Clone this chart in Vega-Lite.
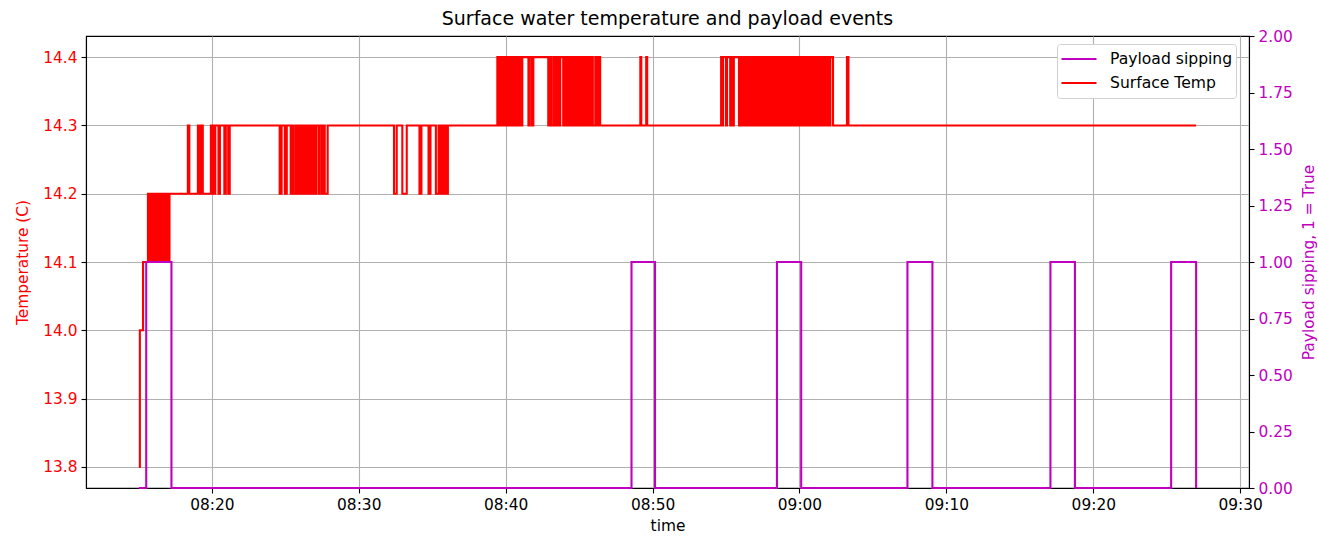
{
  "$schema": "https://vega.github.io/schema/vega-lite/v6.json",
  "width": 1163,
  "height": 452,
  "autosize": {"type": "none"},
  "padding": {"left": 86, "top": 36, "right": 69, "bottom": 48},
  "title": {"text": "Surface water temperature and payload events", "fontSize": 19, "fontWeight": "normal", "color": "#000000", "offset": 0, "font": "DejaVu Sans"},
  "config": {
    "font": "DejaVu Sans",
    "view": {"stroke": "#000000", "strokeWidth": 1.1},
    "axis": {"labelFontSize": 15.4, "titleFontSize": 15.4, "titleFontWeight": "normal", "labelColor": "#000000", "titleColor": "#000000", "tickColor": "#000000", "domainColor": "#000000", "domainWidth": 1.1, "tickWidth": 1.1, "tickSize": 5, "labelPadding": 4, "gridColor": "#b0b0b0", "gridWidth": 1.1, "gridOpacity": 1, "labelFont": "DejaVu Sans", "titleFont": "DejaVu Sans"}
  },
  "layer": [
    {
      "data": {
        "format": {"parse": {"t": "utc:'%H:%M:%S'"}},
        "values": [
          {"t":"08:15:02","v":13.8},{"t":"08:15:06","v":14.0},{"t":"08:15:19","v":14.1},
          {"t":"08:15:39","v":14.2},{"t":"08:15:44","v":14.1},{"t":"08:15:49","v":14.2},{"t":"08:15:54","v":14.1},{"t":"08:15:59","v":14.2},
          {"t":"08:16:04","v":14.1},{"t":"08:16:09","v":14.2},{"t":"08:16:14","v":14.1},{"t":"08:16:19","v":14.2},{"t":"08:16:24","v":14.1},
          {"t":"08:16:29","v":14.2},{"t":"08:16:34","v":14.1},{"t":"08:16:39","v":14.2},{"t":"08:16:44","v":14.1},{"t":"08:16:49","v":14.2},
          {"t":"08:16:54","v":14.1},{"t":"08:16:59","v":14.2},{"t":"08:17:04","v":14.1},{"t":"08:17:07","v":14.2},
          {"t":"08:18:22","v":14.3},{"t":"08:18:28","v":14.2},{"t":"08:19:03","v":14.3},{"t":"08:19:07","v":14.2},{"t":"08:19:15","v":14.3},{"t":"08:19:23","v":14.2},
          {"t":"08:19:56","v":14.3},{"t":"08:20:00","v":14.2},{"t":"08:20:06","v":14.3},{"t":"08:20:10","v":14.2},{"t":"08:20:14","v":14.3},
          {"t":"08:20:27","v":14.2},{"t":"08:20:33","v":14.3},{"t":"08:20:51","v":14.2},{"t":"08:20:57","v":14.3},{"t":"08:21:07","v":14.2},{"t":"08:21:13","v":14.3},
          {"t":"08:24:37","v":14.2},{"t":"08:24:45","v":14.3},{"t":"08:24:58","v":14.2},{"t":"08:25:06","v":14.3},{"t":"08:25:22","v":14.2},{"t":"08:25:26","v":14.3},
          {"t":"08:25:34","v":14.2},{"t":"08:25:43","v":14.3},{"t":"08:25:51","v":14.2},{"t":"08:25:56","v":14.3},{"t":"08:26:01","v":14.2},{"t":"08:26:06","v":14.3},
          {"t":"08:26:11","v":14.2},{"t":"08:26:16","v":14.3},{"t":"08:26:21","v":14.2},{"t":"08:26:26","v":14.3},{"t":"08:26:31","v":14.2},{"t":"08:26:36","v":14.3},
          {"t":"08:26:41","v":14.2},{"t":"08:26:46","v":14.3},{"t":"08:26:51","v":14.2},{"t":"08:26:56","v":14.3},{"t":"08:27:01","v":14.2},{"t":"08:27:06","v":14.3},
          {"t":"08:27:16","v":14.2},{"t":"08:27:20","v":14.3},{"t":"08:27:29","v":14.2},{"t":"08:27:33","v":14.3},{"t":"08:27:41","v":14.2},{"t":"08:27:53","v":14.3},
          {"t":"08:32:24","v":14.2},{"t":"08:32:35","v":14.3},{"t":"08:32:58","v":14.2},{"t":"08:33:16","v":14.3},
          {"t":"08:34:08","v":14.2},{"t":"08:34:16","v":14.3},{"t":"08:34:45","v":14.2},{"t":"08:34:53","v":14.3},
          {"t":"08:35:15","v":14.2},{"t":"08:35:26","v":14.3},{"t":"08:35:34","v":14.2},{"t":"08:35:42","v":14.3},{"t":"08:35:46","v":14.2},{"t":"08:35:54","v":14.3},
          {"t":"08:35:58","v":14.2},{"t":"08:36:04","v":14.3},
          {"t":"08:39:26","v":14.4},{"t":"08:39:30","v":14.3},{"t":"08:39:36","v":14.4},{"t":"08:39:40","v":14.3},{"t":"08:39:46","v":14.4},{"t":"08:39:51","v":14.3},
          {"t":"08:39:59","v":14.4},{"t":"08:40:07","v":14.3},{"t":"08:40:13","v":14.4},{"t":"08:40:19","v":14.3},{"t":"08:40:25","v":14.4},{"t":"08:40:31","v":14.3},
          {"t":"08:40:37","v":14.4},{"t":"08:40:43","v":14.3},{"t":"08:40:48","v":14.4},{"t":"08:40:56","v":14.3},{"t":"08:41:00","v":14.4},{"t":"08:41:04","v":14.3},
          {"t":"08:41:08","v":14.4},{"t":"08:41:33","v":14.3},{"t":"08:41:38","v":14.4},{"t":"08:41:47","v":14.3},{"t":"08:41:53","v":14.4},
          {"t":"08:42:54","v":14.3},{"t":"08:43:00","v":14.4},{"t":"08:43:06","v":14.3},{"t":"08:43:15","v":14.4},{"t":"08:43:23","v":14.3},{"t":"08:43:29","v":14.4},
          {"t":"08:43:35","v":14.3},{"t":"08:43:43","v":14.4},{"t":"08:43:55","v":14.3},{"t":"08:44:01","v":14.4},{"t":"08:44:06","v":14.3},{"t":"08:44:12","v":14.4},
          {"t":"08:44:16","v":14.3},{"t":"08:44:24","v":14.4},{"t":"08:44:32","v":14.3},{"t":"08:44:38","v":14.4},{"t":"08:44:44","v":14.3},{"t":"08:44:50","v":14.4},
          {"t":"08:44:56","v":14.3},{"t":"08:45:02","v":14.4},{"t":"08:45:08","v":14.3},{"t":"08:45:14","v":14.4},{"t":"08:45:20","v":14.3},{"t":"08:45:26","v":14.4},
          {"t":"08:45:32","v":14.3},{"t":"08:45:38","v":14.4},{"t":"08:45:44","v":14.3},{"t":"08:45:50","v":14.4},{"t":"08:45:56","v":14.3},{"t":"08:46:06","v":14.4},
          {"t":"08:46:14","v":14.3},{"t":"08:46:20","v":14.4},{"t":"08:46:26","v":14.3},
          {"t":"08:49:10","v":14.4},{"t":"08:49:14","v":14.3},{"t":"08:49:34","v":14.4},{"t":"08:49:38","v":14.3},
          {"t":"08:54:40","v":14.4},{"t":"08:54:44","v":14.3},{"t":"08:54:48","v":14.4},{"t":"08:55:00","v":14.3},{"t":"08:55:04","v":14.4},{"t":"08:55:17","v":14.3},
          {"t":"08:55:21","v":14.4},{"t":"08:55:29","v":14.3},{"t":"08:55:32","v":14.4},{"t":"08:55:53","v":14.3},{"t":"08:55:59","v":14.4},
          {"t":"08:56:05","v":14.3},{"t":"08:56:11","v":14.4},{"t":"08:56:17","v":14.3},{"t":"08:56:23","v":14.4},{"t":"08:56:29","v":14.3},{"t":"08:56:35","v":14.4},
          {"t":"08:56:41","v":14.3},{"t":"08:56:47","v":14.4},{"t":"08:56:53","v":14.3},{"t":"08:56:59","v":14.4},
          {"t":"08:57:05","v":14.3},{"t":"08:57:11","v":14.4},{"t":"08:57:17","v":14.3},{"t":"08:57:23","v":14.4},{"t":"08:57:29","v":14.3},{"t":"08:57:35","v":14.4},
          {"t":"08:57:41","v":14.3},{"t":"08:57:47","v":14.4},{"t":"08:57:53","v":14.3},{"t":"08:57:59","v":14.4},
          {"t":"08:58:05","v":14.3},{"t":"08:58:11","v":14.4},{"t":"08:58:17","v":14.3},{"t":"08:58:23","v":14.4},{"t":"08:58:29","v":14.3},{"t":"08:58:35","v":14.4},
          {"t":"08:58:41","v":14.3},{"t":"08:58:47","v":14.4},{"t":"08:58:53","v":14.3},{"t":"08:58:59","v":14.4},
          {"t":"08:59:05","v":14.3},{"t":"08:59:11","v":14.4},{"t":"08:59:17","v":14.3},{"t":"08:59:23","v":14.4},{"t":"08:59:29","v":14.3},{"t":"08:59:35","v":14.4},
          {"t":"08:59:41","v":14.3},{"t":"08:59:47","v":14.4},{"t":"08:59:53","v":14.3},{"t":"08:59:59","v":14.4},
          {"t":"09:00:05","v":14.3},{"t":"09:00:11","v":14.4},{"t":"09:00:17","v":14.3},{"t":"09:00:23","v":14.4},{"t":"09:00:29","v":14.3},{"t":"09:00:35","v":14.4},
          {"t":"09:00:41","v":14.3},{"t":"09:00:47","v":14.4},{"t":"09:00:53","v":14.3},{"t":"09:00:59","v":14.4},
          {"t":"09:01:05","v":14.3},{"t":"09:01:11","v":14.4},{"t":"09:01:17","v":14.3},{"t":"09:01:23","v":14.4},{"t":"09:01:29","v":14.3},{"t":"09:01:35","v":14.4},
          {"t":"09:01:41","v":14.3},{"t":"09:01:44","v":14.4},{"t":"09:01:48","v":14.3},{"t":"09:01:52","v":14.4},{"t":"09:01:58","v":14.3},{"t":"09:02:06","v":14.4},
          {"t":"09:02:17","v":14.3},{"t":"09:03:14","v":14.4},{"t":"09:03:20","v":14.3},{"t":"09:27:00","v":14.3}
        ]
      },
      "mark": {"type": "line", "interpolate": "step-after", "strokeWidth": 2.1},
      "encoding": {
        "x": {"field": "t", "type": "temporal",
          "scale": {"type": "utc", "domain": [{"year": 1900, "month": 1, "date": 1, "hours": 8, "minutes": 11, "seconds": 26, "utc": true}, {"year": 1900, "month": 1, "date": 1, "hours": 9, "minutes": 30, "seconds": 36, "utc": true}]},
          "axis": {"title": "time", "format": "%H:%M", "grid": true, "labelFlush": false, "titlePadding": 6,
            "values": [
              {"year": 1900, "month": 1, "date": 1, "hours": 8, "minutes": 20, "utc": true},
              {"year": 1900, "month": 1, "date": 1, "hours": 8, "minutes": 30, "utc": true},
              {"year": 1900, "month": 1, "date": 1, "hours": 8, "minutes": 40, "utc": true},
              {"year": 1900, "month": 1, "date": 1, "hours": 8, "minutes": 50, "utc": true},
              {"year": 1900, "month": 1, "date": 1, "hours": 9, "minutes": 0, "utc": true},
              {"year": 1900, "month": 1, "date": 1, "hours": 9, "minutes": 10, "utc": true},
              {"year": 1900, "month": 1, "date": 1, "hours": 9, "minutes": 20, "utc": true},
              {"year": 1900, "month": 1, "date": 1, "hours": 9, "minutes": 30, "utc": true}
            ]}},
        "y": {"field": "v", "type": "quantitative",
          "scale": {"domain": [13.769, 14.431], "nice": false, "zero": false},
          "axis": {"title": "Temperature (C)", "values": [13.8, 13.9, 14.0, 14.1, 14.2, 14.3, 14.4], "format": ".1f", "labelColor": "#ff0000", "titleColor": "#ff0000", "grid": true, "titlePadding": 12}},
        "color": {"datum": "Surface Temp", "type": "nominal",
          "scale": {"domain": ["Payload sipping", "Surface Temp"], "range": ["#bf00bf", "#ff0000"]},
          "legend": {"title": null, "orient": "none", "legendX": 971, "legendY": 8, "symbolType": "stroke", "symbolSize": 1225, "symbolStrokeWidth": 2.1, "clipHeight": 24, "labelFontSize": 15.6, "labelFont": "DejaVu Sans", "labelColor": "#000000", "labelOffset": 12, "rowPadding": 0, "padding": 3, "strokeColor": "#d0d0d0", "fillColor": "#ffffff", "cornerRadius": 3}}
      }
    },
    {
      "data": {
        "format": {"parse": {"t": "utc:'%H:%M:%S'"}},
        "values": [
          {"t":"08:15:02","p":0},{"t":"08:15:32","p":1},{"t":"08:17:15","p":0},
          {"t":"08:48:34","p":1},{"t":"08:50:10","p":0},
          {"t":"08:58:28","p":1},{"t":"09:00:07","p":0},
          {"t":"09:07:21","p":1},{"t":"09:09:03","p":0},
          {"t":"09:17:05","p":1},{"t":"09:18:45","p":0},
          {"t":"09:25:18","p":1},{"t":"09:27:00","p":0}
        ]
      },
      "mark": {"type": "line", "interpolate": "step-after", "strokeWidth": 2.1},
      "encoding": {
        "x": {"field": "t", "type": "temporal"},
        "y": {"field": "p", "type": "quantitative",
          "scale": {"domain": [0, 2], "nice": false, "zero": false},
          "axis": {"orient": "right", "title": "Payload sipping, 1 = True", "titleAngle": 270, "titleBaseline": "top", "values": [0, 0.25, 0.5, 0.75, 1, 1.25, 1.5, 1.75, 2], "format": ".2f", "labelColor": "#bf00bf", "titleColor": "#bf00bf", "grid": false, "titlePadding": 9}},
        "color": {"datum": "Payload sipping", "type": "nominal"}
      }
    }
  ],
  "resolve": {"scale": {"y": "independent"}}
}
